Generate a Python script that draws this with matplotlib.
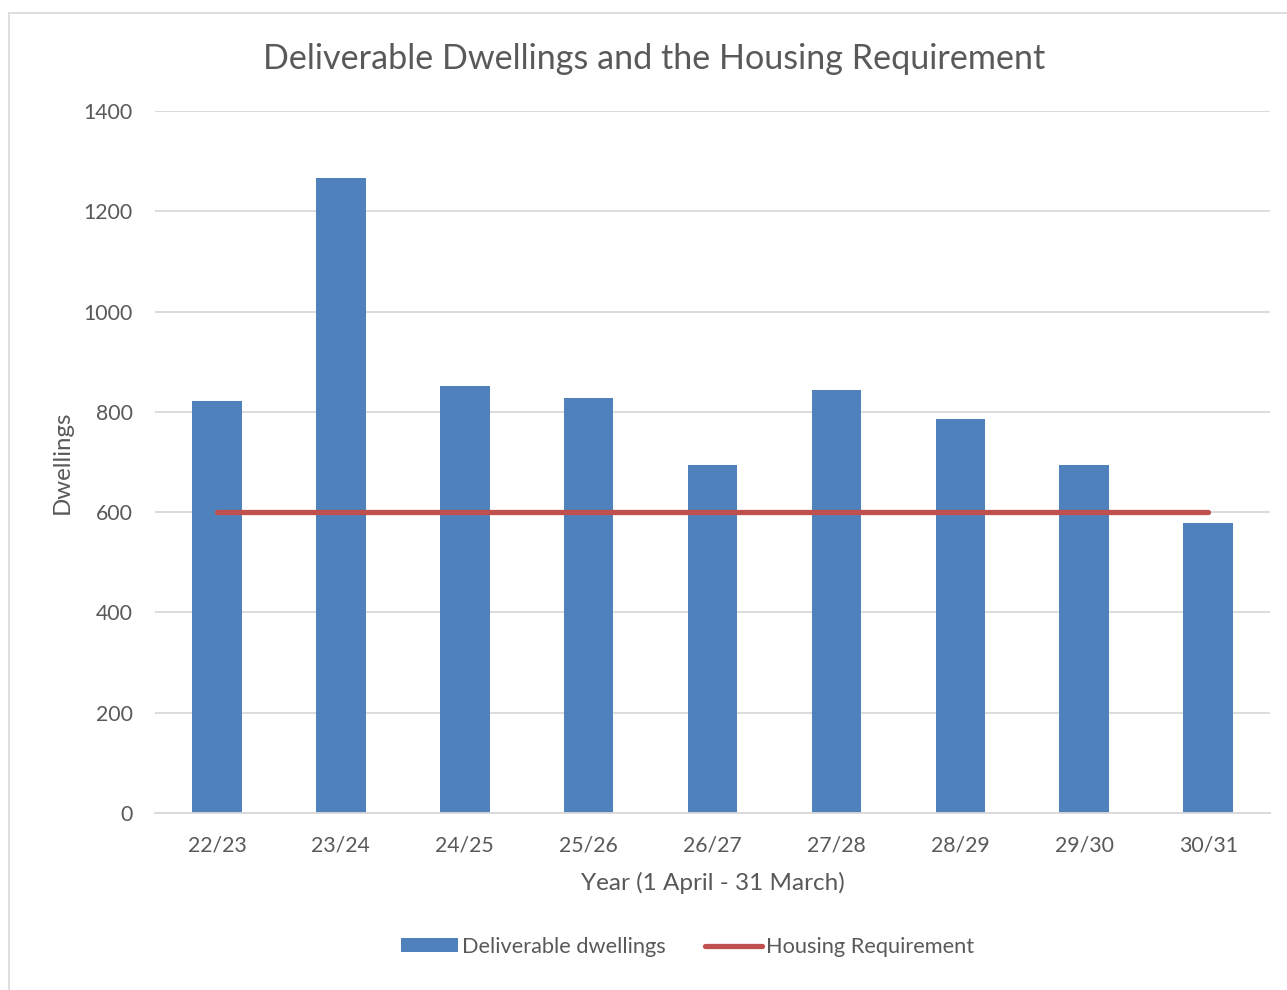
import numpy as np
import matplotlib.pyplot as plt
from matplotlib.patches import Rectangle

# datos
years = ["22/23", "23/24", "24/25", "25/26", "26/27", "27/28", "28/29", "29/30", "30/31"]
dwellings = [821, 1267, 851, 827, 695, 843, 785, 694, 579]
requirement = [600, 600, 600, 600, 600, 600, 600, 600, 600]
yticks = [0, 200, 400, 600, 800, 1000, 1200, 1400]

plt.rcParams['font.family'] = ['Lato', 'DejaVu Sans']
txt = '#595959'

fig = plt.figure(figsize=(12.87, 9.9), dpi=100)
# borde del area del grafico
fig.patches.append(Rectangle((9 / 1287, -0.1), 1.2, 1.1 - 13 / 990, transform=fig.transFigure,
                             fill=False, edgecolor='#D9D9D9', linewidth=1.2))

ax = fig.add_axes([155 / 1287, 1 - 813 / 990, 1115 / 1287, 702 / 990])
x = np.arange(len(years))
barras = ax.bar(x, dwellings, width=0.4, color='#4F81BD', label='Deliverable dwellings', zorder=2)
linea, = ax.plot(x, requirement, color='#C0504D', linewidth=3.8, solid_capstyle='round',
                 label='Housing Requirement', zorder=3)

ax.set_xlim(-0.5, len(years) - 0.5)
ax.set_ylim(0, 1400)
ax.set_yticks(yticks)
ax.set_xticks(x)
ax.set_xticklabels(years)
ax.grid(axis='y', color='#D9D9D9', linewidth=1.3, zorder=0)
ax.set_axisbelow(True)
for s in ['top', 'right', 'left']:
    ax.spines[s].set_visible(False)
ax.spines['bottom'].set_color('#D9D9D9')
ax.spines['bottom'].set_linewidth(1.3)
ax.tick_params(axis='both', length=0, labelsize=15.3, colors=txt)
ax.tick_params(axis='y', pad=16)
ax.tick_params(axis='x', pad=16)

ax.set_xlabel('Year (1 April - 31 March)', fontsize=17.5, color=txt, labelpad=12)
ax.set_ylabel('Dwellings', fontsize=17.3, color=txt, labelpad=8)

fig.text(654 / 1287, 1 - 59 / 990, 'Deliverable Dwellings and the Housing Requirement',
         ha='center', va='center', fontsize=24.6, color=txt)

fig.legend([barras, linea], ['Deliverable dwellings', 'Housing Requirement'],
           loc='center', bbox_to_anchor=(688 / 1287, 1 - 947 / 990), ncol=2, frameon=False,
           fontsize=15.7, labelcolor=txt, handlelength=2.6, handleheight=0.6,
           handletextpad=0.2, columnspacing=1.8)

fig.savefig('out.png', dpi=100)
